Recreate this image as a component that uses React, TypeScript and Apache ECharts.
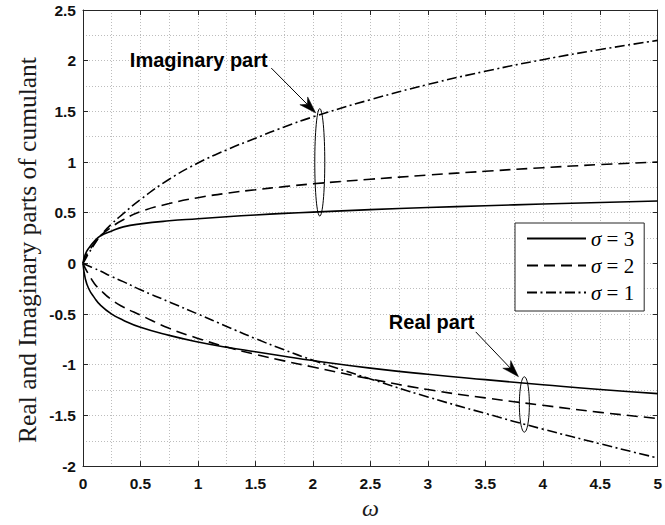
import React, { useEffect, useRef } from 'react';
import * as echarts from 'echarts';

// ---- data ----
const omega = [0, 0.02, 0.05, 0.1, 0.15, 0.25, 0.35, 0.5, 0.75, 1, 1.25, 1.5, 1.75, 2, 2.5, 3, 3.5, 4, 4.5, 5];
const sigmas = [3, 2, 1];
const imag3 = [0, 0.09, 0.15, 0.22, 0.27, 0.32, 0.36, 0.39, 0.42, 0.44, 0.46, 0.478, 0.493, 0.506, 0.53, 0.551, 0.569, 0.586, 0.601, 0.615];
const imag2 = [0, 0.06, 0.12, 0.2, 0.27, 0.36, 0.43, 0.51, 0.59, 0.648, 0.692, 0.727, 0.757, 0.785, 0.83, 0.871, 0.909, 0.944, 0.975, 1.0];
const imag1 = [0, 0.04, 0.1, 0.19, 0.27, 0.39, 0.49, 0.63, 0.83, 0.99, 1.12, 1.235, 1.345, 1.445, 1.615, 1.765, 1.895, 2.01, 2.11, 2.2];
const real3 = [0, -0.15, -0.25, -0.34, -0.41, -0.5, -0.56, -0.63, -0.71, -0.775, -0.827, -0.872, -0.916, -0.958, -1.033, -1.094, -1.147, -1.197, -1.245, -1.285];
const real2 = [0, -0.05, -0.11, -0.2, -0.26, -0.36, -0.43, -0.51, -0.64, -0.74, -0.825, -0.898, -0.962, -1.022, -1.14, -1.245, -1.327, -1.4, -1.47, -1.53];
const real1 = [0, -0.01, -0.025, -0.05, -0.075, -0.13, -0.18, -0.26, -0.38, -0.5, -0.622, -0.742, -0.853, -0.955, -1.14, -1.318, -1.48, -1.635, -1.78, -1.92];

// annotation anchors in data coordinates
const imagText = { label: 'Imaginary part', at: [1.007, 2.009] };
const realText = { label: 'Real part', at: [3.033, -0.575] };
const imagArrow = { from: [1.638, 1.927], to: [2.025, 1.485] };
const realArrow = { from: [3.417, -0.676], to: [3.789, -1.118] };
const imagEllipse = { center: [2.06, 0.997], halfHeight: 0.53 };
const realEllipse = { center: [3.84, -1.392], halfHeight: 0.273 };

const yLabel = 'Real and Imaginary parts of cumulant';
const xLabel = 'ω';

const dashStyles: any[] = ['solid', [11, 6], [10, 3.5, 2, 3.5]];

export default function App() {
  const ref = useRef<HTMLDivElement>(null);
  useEffect(() => {
    const chart = echarts.init(ref.current!, null, { renderer: 'svg' });
    const axisColor = '#262626';
    const gridLine = { show: true, lineStyle: { color: '#bdbdbd', type: [1, 2], width: 1 } };
    const imags = [imag3, imag2, imag1];
    const reals = [real3, real2, real1];
    const names = sigmas.map((s) => `σ = ${s}`);

    const series: any[] = [];
    sigmas.forEach((s, i) => {
      const common = {
        type: 'line',
        showSymbol: false,
        symbol: 'none',
        smooth: 0.5,
        lineStyle: { color: '#000', width: 1.6, type: dashStyles[i] },
        itemStyle: { color: '#000' },
        xAxisIndex: 0,
        yAxisIndex: 0,
        z: 3,
      };
      series.push({ ...common, name: names[i], data: omega.map((w, k) => [w, reals[i][k]]) });
      series.push({ ...common, name: names[i] + ' (Im)', data: omega.map((w, k) => [w, imags[i][k]]) });
    });

    const tickLabel = { color: '#111', fontFamily: 'Liberation Sans, Arial, sans-serif', fontWeight: 'bold', fontSize: 15.5 };

    chart.setOption({
      animation: false,
      backgroundColor: '#fff',
      grid: { left: 83, right: 2, top: 10, bottom: 57, containLabel: false },
      xAxis: [
        {
          type: 'value', min: 0, max: 5, interval: 0.5, position: 'bottom',
          axisLine: { show: true, onZero: false, lineStyle: { color: axisColor, width: 1 } },
          axisTick: { show: true, inside: true, length: 5, lineStyle: { color: axisColor } },
          minorTick: { show: false, splitNumber: 2 },
          splitLine: gridLine,
          minorSplitLine: gridLine,
          axisLabel: { ...tickLabel, margin: 9 },
          name: xLabel,
          nameLocation: 'middle',
          nameGap: 24,
          nameTextStyle: { fontFamily: 'Liberation Serif, serif', fontStyle: 'italic', fontSize: 24, color: '#1a1a1a' },
        },
        {
          type: 'value', min: 0, max: 5, interval: 0.5, position: 'top',
          axisLine: { show: true, onZero: false, lineStyle: { color: axisColor, width: 1 } },
          axisTick: { show: true, inside: true, length: 5, lineStyle: { color: axisColor } },
          splitLine: { show: false },
          axisLabel: { show: false },
        },
      ],
      yAxis: [
        {
          type: 'value', min: -2, max: 2.5, interval: 0.5, position: 'left',
          axisLine: { show: true, onZero: false, lineStyle: { color: axisColor, width: 1 } },
          axisTick: { show: true, inside: true, length: 5, lineStyle: { color: axisColor } },
          minorTick: { show: false, splitNumber: 2 },
          splitLine: gridLine,
          minorSplitLine: gridLine,
          axisLabel: { ...tickLabel, margin: 7 },
        },
        {
          type: 'value', min: -2, max: 2.5, interval: 0.5, position: 'right',
          axisLine: { show: true, onZero: false, lineStyle: { color: axisColor, width: 1 } },
          axisTick: { show: true, inside: true, length: 5, lineStyle: { color: axisColor } },
          splitLine: { show: false },
          axisLabel: { show: false },
        },
      ],
      legend: {
        data: names,
        orient: 'vertical',
        left: 515,
        top: 223,
        itemWidth: 59,
        itemHeight: 14,
        itemGap: 6,
        padding: [5, 10, 8, 11],
        borderColor: axisColor,
        borderWidth: 1,
        borderRadius: 0,
        backgroundColor: '#fff',
        itemStyle: { opacity: 0, borderWidth: 0 },
        formatter: (name: string) => `{i|σ}{t| = ${name.split('= ')[1]}}`,
        textStyle: {
          rich: {
            i: { fontFamily: 'Liberation Serif, serif', fontStyle: 'italic', fontSize: 21, color: '#000' },
            t: { fontFamily: 'Liberation Serif, serif', fontSize: 21, color: '#000' },
          },
        },
      },
      series,
    });

    const px = (p: number[]) => chart.convertToPixel({ xAxisIndex: 0, yAxisIndex: 0 } as any, p) as number[];

    const arrow = (a: { from: number[]; to: number[] }) => {
      const s = px(a.from);
      const t = px(a.to);
      const dx = t[0] - s[0];
      const dy = t[1] - s[1];
      const len = Math.hypot(dx, dy);
      const ux = dx / len, uy = dy / len;
      const nx = -uy, ny = ux;
      const hl = 17, hw = 5.5, notch = 12;
      const back = [t[0] - ux * hl, t[1] - uy * hl];
      const nb = [t[0] - ux * notch, t[1] - uy * notch];
      return [
        { type: 'line', shape: { x1: s[0], y1: s[1], x2: nb[0], y2: nb[1] }, style: { stroke: '#000', lineWidth: 1 }, z: 10 },
        {
          type: 'polygon',
          shape: { points: [t, [back[0] + nx * hw, back[1] + ny * hw], nb, [back[0] - nx * hw, back[1] - ny * hw]] },
          style: { fill: '#000', stroke: '#000', lineWidth: 0.5 },
          z: 10,
        },
      ];
    };
    const ellipse = (e: { center: number[]; halfHeight: number }) => {
      const c = px(e.center);
      const top = px([e.center[0], e.center[1] + e.halfHeight]);
      return {
        type: 'ellipse',
        shape: { cx: c[0], cy: c[1], rx: 5, ry: Math.abs(c[1] - top[1]) },
        style: { fill: 'none', stroke: '#000', lineWidth: 1 },
        z: 10,
      };
    };
    const label = (t: { label: string; at: number[] }) => {
      const p = px(t.at);
      return {
        type: 'text',
        x: p[0],
        y: p[1],
        style: {
          text: t.label,
          font: 'bold 20px "Liberation Sans", Arial, sans-serif',
          fill: '#000',
          align: 'center',
          verticalAlign: 'middle',
        },
        z: 10,
      };
    };

    chart.setOption({
      graphic: [
        {
          type: 'text',
          x: 27,
          y: 250,
          rotation: Math.PI / 2,
          style: {
            text: yLabel,
            font: '25.5px "Liberation Serif", serif',
            fill: '#1a1a1a',
            align: 'center',
            verticalAlign: 'middle',
          },
        },
        label(imagText),
        label(realText),
        ...arrow(imagArrow),
        ...arrow(realArrow),
        ellipse(imagEllipse),
        ellipse(realEllipse),
      ],
    });

    return () => chart.dispose();
  }, []);
  return <div ref={ref} style={{ position: 'fixed', left: 0, top: 0, width: 665, height: 525, background: '#fff' }} />;
}
